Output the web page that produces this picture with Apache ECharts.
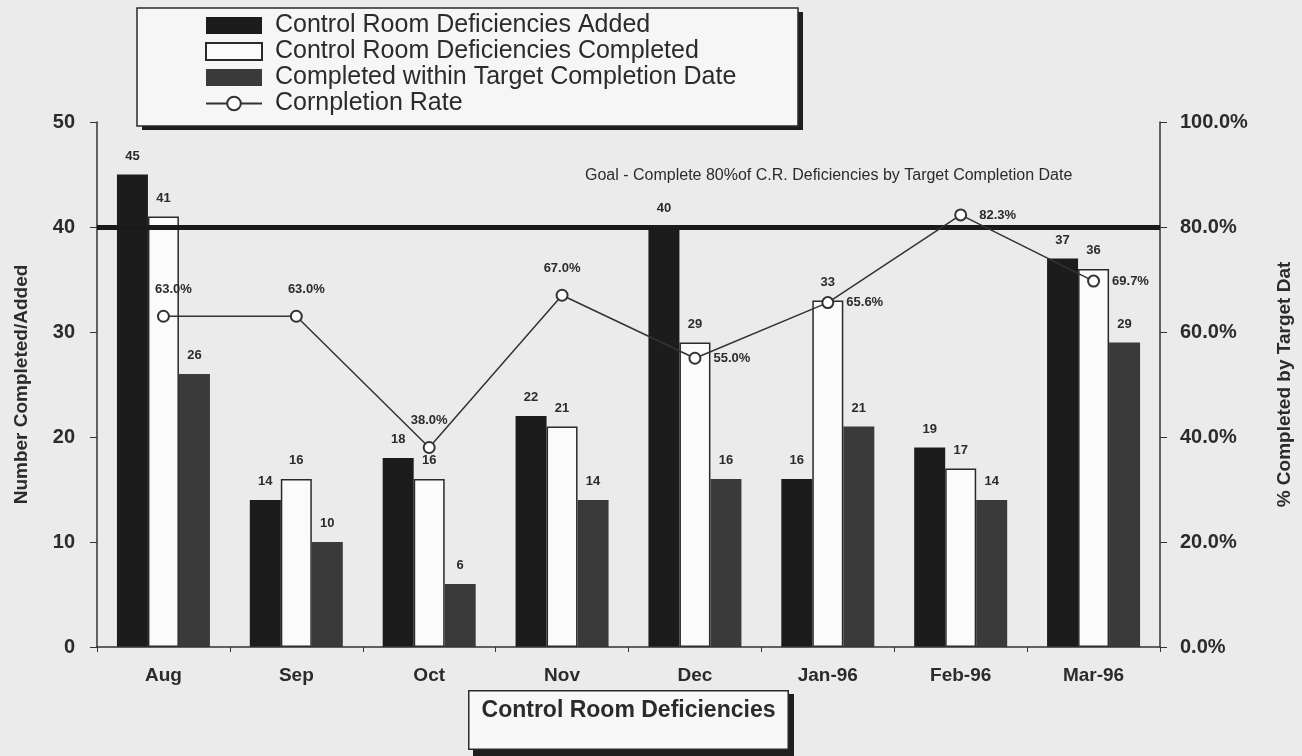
<!DOCTYPE html>
<html>
<head>
<meta charset="utf-8">
<script src="https://cdn.jsdelivr.net/npm/echarts@6/dist/echarts.min.js"></script>
<style>
html,body{margin:0;padding:0;background:#ebebeb;}
#chart{width:1302px;height:756px;}
</style>
</head>
<body>
<div id="chart"></div>
<script>
const categories = ['Aug', 'Sep', 'Oct', 'Nov', 'Dec', 'Jan-96', 'Feb-96', 'Mar-96'];
const added = [45, 14, 18, 22, 40, 16, 19, 37];
const completed = [41, 16, 16, 21, 29, 33, 17, 36];
const withinTarget = [26, 10, 6, 14, 16, 21, 14, 29];
const completionRate = [63.0, 63.0, 38.0, 67.0, 55.0, 65.6, 82.3, 69.7];
const goalCount = 40;
const leftTicks = {min: 0, max: 50, interval: 10};
const rightTicks = {min: 0, max: 100, interval: 20};

const FONT = 'Liberation Sans, Arial, sans-serif';
const TXT = '#2b2b2b';

const chart = echarts.init(document.getElementById('chart'));

const barLabel = {
  show: true, position: 'top', distance: 12,
  fontFamily: FONT, fontSize: 13, fontWeight: 'bold', color: TXT
};

chart.setOption({
  backgroundColor: '#ebebeb',
  animation: false,
  title: {
    text: 'Goal - Complete 80%of C.R. Deficiencies by Target Completion Date',
    left: 580, top: 163,
    textStyle: {fontFamily: FONT, fontSize: 16, fontWeight: 'normal', color: TXT}
  },
  graphic: [{
    type: 'rect', z: 0,
    shape: {x: 142, y: 12, width: 661, height: 118},
    style: {fill: '#1e1e1e'}
  }, {
    type: 'rect', z: 0,
    shape: {x: 137, y: 8, width: 661, height: 118},
    style: {fill: '#f6f6f6', stroke: '#2a2a2a', lineWidth: 1.5}
  }, {
    type: 'rect', z: 0,
    shape: {x: 473, y: 694, width: 321, height: 62},
    style: {fill: '#1e1e1e'}
  }],
  legend: {
    orient: 'vertical', left: 200, top: 8, itemGap: 1,
    itemWidth: 56, itemHeight: 17, z: 10,
    textStyle: {fontFamily: FONT, fontSize: 25, color: TXT, padding: [0, 0, 0, 8]},
    data: [
      {name: 'Control Room Deficiencies Added', icon: 'rect'},
      {name: 'Control Room Deficiencies Completed', icon: 'rect'},
      {name: 'Completed within Target Completion Date', icon: 'rect'},
      {name: 'Cornpletion Rate'}
    ]
  },
  grid: {left: 97, right: 142, top: 122, bottom: 109},
  xAxis: {
    type: 'category', data: categories, z: 5,
    name: 'Control Room Deficiencies', nameLocation: 'middle', nameGap: 44,
    nameTextStyle: {fontFamily: FONT, fontSize: 23, fontWeight: 'bold', color: TXT,
      padding: [8, 12, 26, 12], backgroundColor: '#f8f8f8', borderColor: '#2a2a2a', borderWidth: 1.5},
    axisLine: {lineStyle: {color: '#333', width: 1.5}},
    axisTick: {show: true, length: 5, lineStyle: {color: '#333'}},
    axisLabel: {fontFamily: FONT, fontSize: 19, fontWeight: 'bold', color: TXT, margin: 19}
  },
  yAxis: [{
    type: 'value', min: leftTicks.min, max: leftTicks.max, interval: leftTicks.interval,
    name: 'Number Completed/Added', nameLocation: 'middle', nameGap: 66,
    nameTextStyle: {fontFamily: FONT, fontSize: 19, fontWeight: 'bold', color: TXT},
    axisLine: {show: true, lineStyle: {color: '#333', width: 1.5}},
    axisTick: {show: true, length: 7, lineStyle: {color: '#333'}},
    splitLine: {show: false},
    axisLabel: {fontFamily: FONT, fontSize: 20, fontWeight: 'bold', color: TXT, margin: 22}
  }, {
    type: 'value', min: rightTicks.min, max: rightTicks.max, interval: rightTicks.interval,
    name: '% Completed by Target Dat', nameLocation: 'middle', nameGap: 115,
    nameTextStyle: {fontFamily: FONT, fontSize: 19, fontWeight: 'bold', color: TXT},
    axisLine: {show: true, lineStyle: {color: '#333', width: 1.5}},
    axisTick: {show: true, length: 7, lineStyle: {color: '#333'}},
    splitLine: {show: false},
    axisLabel: {fontFamily: FONT, fontSize: 20, fontWeight: 'bold', color: TXT, margin: 20,
      formatter: v => v.toFixed(1) + '%'}
  }],
  series: [{
    name: 'Control Room Deficiencies Added', type: 'bar', data: added,
    barWidth: 31, barGap: '0%',
    itemStyle: {color: '#1c1c1c'},
    label: barLabel,
    markLine: {
      silent: true, symbol: 'none', label: {show: false},
      lineStyle: {color: '#1a1a1a', width: 5, type: 'solid'},
      data: [{yAxis: goalCount}]
    }
  }, {
    name: 'Control Room Deficiencies Completed', type: 'bar', data: completed,
    barWidth: 31, barGap: '0%',
    itemStyle: {color: '#fbfbfb', borderColor: '#2a2a2a', borderWidth: 1.5},
    label: barLabel
  }, {
    name: 'Completed within Target Completion Date', type: 'bar', data: withinTarget,
    barWidth: 31, barGap: '0%',
    itemStyle: {color: '#3a3a3a'},
    label: barLabel
  }, {
    name: 'Cornpletion Rate', type: 'line', yAxisIndex: 1, z: 5,
    data: completionRate.map((v, i) => ({
      value: v,
      label: i < 4 ? {position: 'top', distance: 14, offset: [i < 2 ? 10 : 0, 0]} : {position: 'right', distance: 12}
    })),
    symbol: 'emptyCircle', symbolSize: 11,
    lineStyle: {color: '#333', width: 1.5},
    itemStyle: {color: '#333', borderColor: '#333', borderWidth: 1.5},
    label: {show: true, fontFamily: FONT, fontSize: 13, fontWeight: 'bold', color: TXT,
      formatter: p => p.value.toFixed(1) + '%'}
  }]
});
</script>
</body>
</html>
